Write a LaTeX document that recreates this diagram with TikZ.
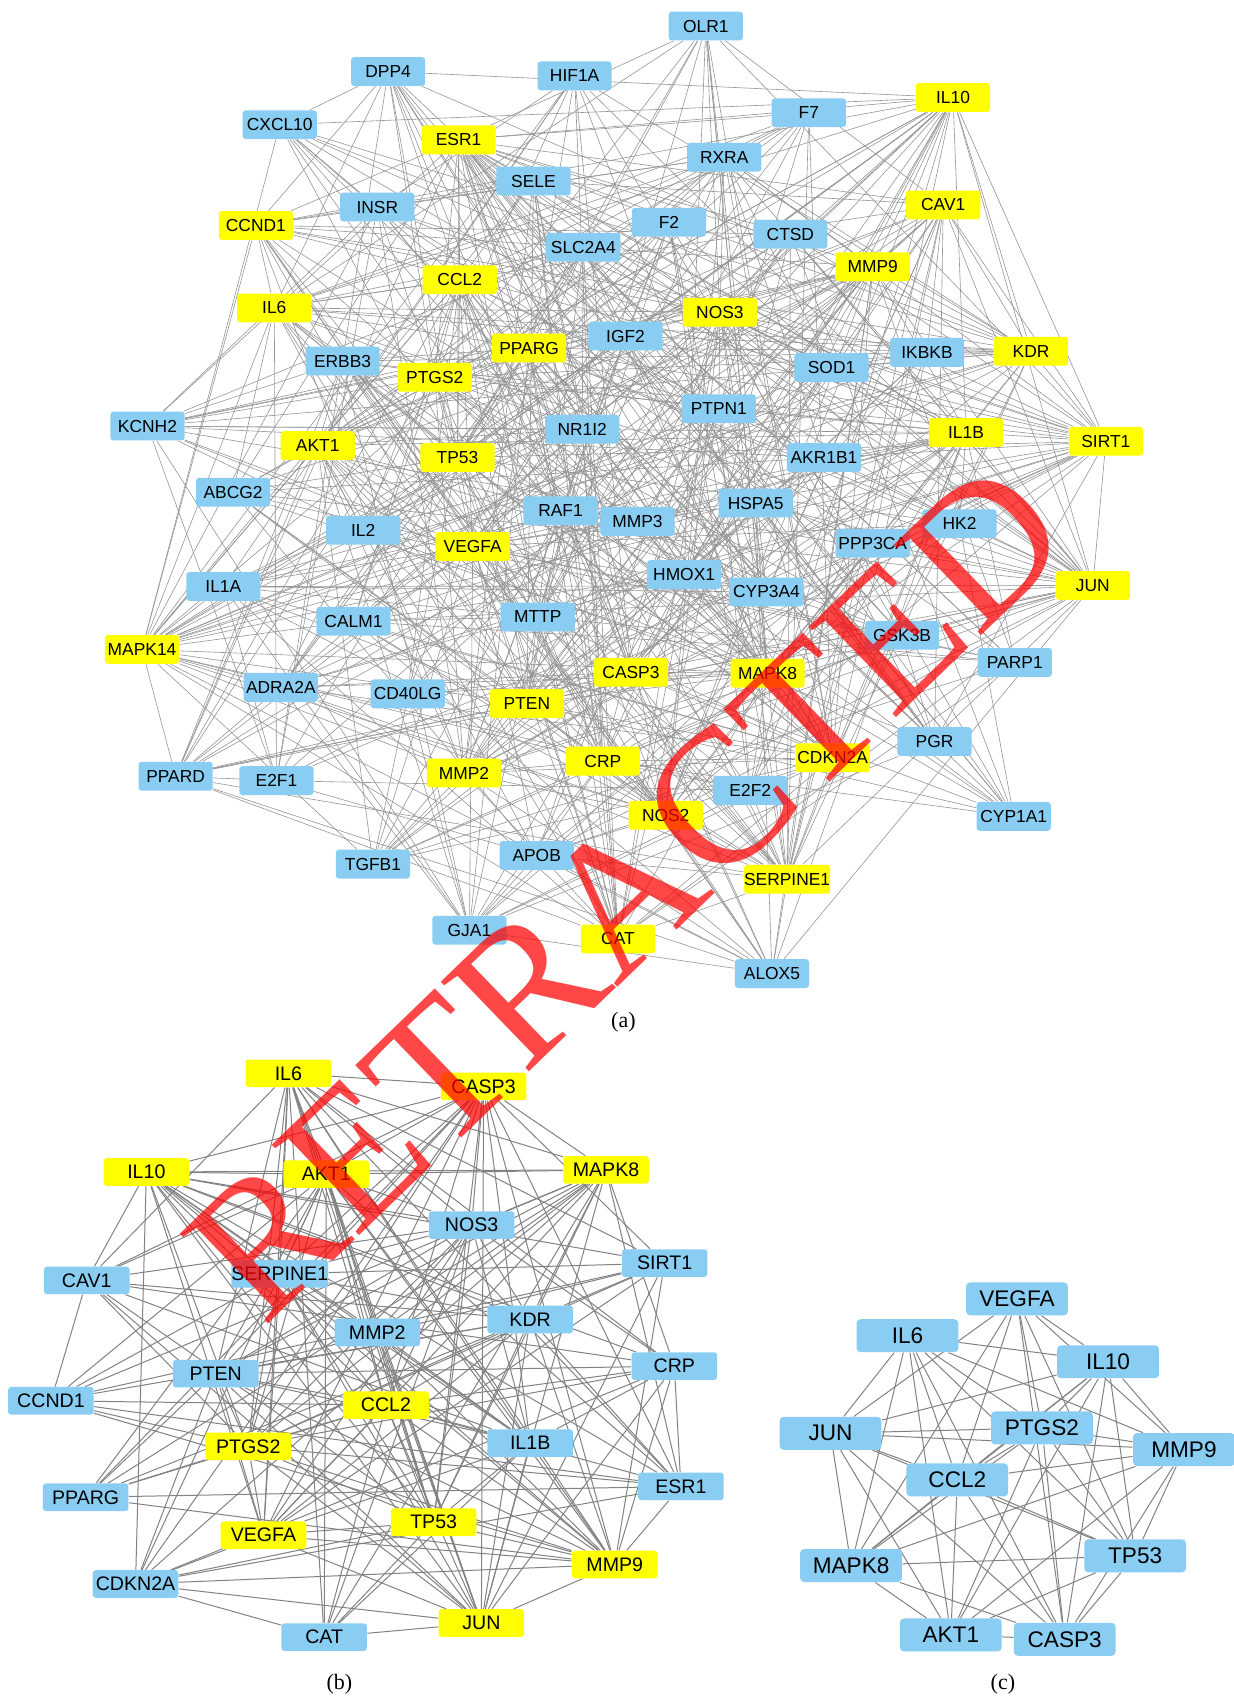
\documentclass[tikz,border=0pt]{standalone}
\usepackage{fontspec}
\setmainfont{Liberation Serif}
\newfontfamily\boxfont{Liberation Sans}
\usetikzlibrary{backgrounds}
\definecolor{nblue}{RGB}{137,206,242}
\definecolor{nyel}{RGB}{255,255,0}
\definecolor{egray}{RGB}{150,150,150}
\definecolor{egrayb}{RGB}{130,130,130}

\newcommand\placenodes[3]{%
  \foreach \n/\x/\y/\h [count=\k] in {#3}{%
    \node[#2, col\h] (#1-\n) at (\x,\y) {\n};
    \expandafter\xdef\csname #1N\k\endcsname{\n}%
    \expandafter\xdef\csname #1H\k\endcsname{\h}%
  }%
}
\newcommand\drawnet[6]{%
  \pgfmathtruncatemacro\netlast{#2-1}%
  \foreach \i in {1,...,\netlast}{%
    \pgfmathtruncatemacro\netnext{\i+1}%
    \foreach \j in {\netnext,...,#2}{%
      \edef\ha{\csname #1H\i\endcsname}\edef\hb{\csname #1H\j\endcsname}%
      \pgfmathsetmacro\rr{rnd}%
      \ifcase\numexpr\ha+\hb\relax\def\pp{#3}\or\def\pp{#4}\else\def\pp{#5}\fi
      \ifdim\rr pt<\pp pt
        \edef\na{\csname #1N\i\endcsname}\edef\nb{\csname #1N\j\endcsname}%
        \draw[#6] (#1-\na) -- (#1-\nb);
      \fi
    }%
  }%
}

\begin{document}
\begin{tikzpicture}[x=0.5422pt,y=-0.5422pt,
  col0/.style={fill=nblue},
  col1/.style={fill=nyel},
  abox/.style={rectangle, rounded corners=1.5pt, minimum width=37.1pt, minimum height=14.4pt, inner sep=0pt, font=\boxfont\fontsize{8.7}{9}\selectfont},
  bbox/.style={rectangle, rounded corners=1.5pt, minimum width=42.8pt, minimum height=13.8pt, inner sep=0pt, font=\boxfont\fontsize{9.8}{10}\selectfont},
  cbox/.style={rectangle, rounded corners=2pt, minimum width=50.9pt, minimum height=16.5pt, inner sep=0pt, font=\boxfont\fontsize{11.3}{12}\selectfont},
  aedge/.style={draw=egray, line width=0.3pt},
  bedge/.style={draw=egrayb, line width=0.5pt},
  cedge/.style={draw=egrayb, line width=0.5pt},
  plabel/.style={font=\fontsize{11}{12}\selectfont}
]
\useasboundingbox (0,0) rectangle (1138,1568);

\placenodes{a}{abox}{OLR1/651/24/0, DPP4/358/66/0, HIF1A/530/70/0, IL10/879/90/1, F7/746/104/0,
 CXCL10/258/115/0, ESR1/423/129/1, RXRA/668/145/0, SELE/492/167/0, CAV1/870/189/1,
 INSR/348/191/0, CCND1/236/208/1, F2/617/205/0, CTSD/729/216/0, SLC2A4/538/228/0,
 MMP9/805/246/1, CCL2/424/258/1, IL6/253/284/1, NOS3/664/288/1, IGF2/577/310/0,
 PPARG/488/321/1, IKBKB/855/325/0, KDR/951/324/1, ERBB3/316/333/0, PTGS2/401/348/1,
 SOD1/767/339/0, PTPN1/663/377/0, KCNH2/136/393/0, NR1I2/537/396/0, IL1B/891/399/1,
 SIRT1/1020/407/1, AKT1/293/411/1, TP53/422/422/1, AKR1B1/760/422/0, ABCG2/215/454/0,
 RAF1/517/471/0, MMP3/588/481/0, HSPA5/697/464/0, HK2/885/483/0, IL2/335/489/0,
 VEGFA/436/504/1, PPP3CA/805/501/0, HMOX1/631/530/0, CYP3A4/707/546/0, JUN/1008/540/1,
 IL1A/206/541/0, MTTP/496/569/0, CALM1/326/573/0, GSK3B/832/586/0, MAPK14/131/599/1,
 PARP1/936/611/0, CASP3/582/620/1, MAPK8/708/621/1, ADRA2A/259/634/0, CD40LG/376/640/0,
 PTEN/486/649/1, PGR/862/684/0, CDKN2A/768/699/1, CRP/556/702/1, MMP2/428/713/1,
 PPARD/162/716/0, E2F1/255/720/0, E2F2/692/729/0, CYP1A1/935/753/0, NOS2/614/752/1,
 APOB/495/789/0, SERPINE1/726/811/1, TGFB1/344/797/0, GJA1/433/858/0, CAT/570/866/1,
 ALOX5/712/898/0}

\placenodes{b}{bbox}{IL6/266/990/1, CASP3/446/1002/1, IL10/135/1081/1, AKT1/301/1083/1,
 MAPK8/559/1079/1, NOS3/435/1130/0, SIRT1/613/1165/0, CAV1/80/1181/0, SERPINE1/258/1175/0,
 MMP2/348/1229/0, KDR/489/1217/0, CRP/622/1260/0, PTEN/199/1267/0, CCND1/47/1292/0,
 CCL2/356/1296/1, PTGS2/229/1334/1, IL1B/489/1331/0, ESR1/628/1371/0, PPARG/79/1381/0,
 TP53/400/1404/1, VEGFA/243/1416/1, MMP9/567/1443/1, CDKN2A/125/1461/0, JUN/444/1497/1,
 CAT/299/1510/0}

\placenodes{c}{cbox}{VEGFA/938/1198/0, IL6/837/1232/0, IL10/1022/1256/0, JUN/766/1322/0,
 PTGS2/961/1317/0, MMP9/1092/1337/0, CCL2/883/1365/0, MAPK8/785/1444/0, TP53/1047/1435/0,
 AKT1/877/1508/0, CASP3/982/1512/0}

\begin{scope}[on background layer]
  \fill[white] (0,0) rectangle (1138,1568);
  \pgfmathsetseed{2718}
  \drawnet{a}{71}{0.12}{0.30}{0.55}{aedge}
  \drawnet{b}{25}{0.42}{0.68}{0.92}{bedge}
  \drawnet{c}{11}{0.90}{0.90}{0.90}{cedge}
\end{scope}

\node[plabel] (la) at (575,943) {(a)};
\node[plabel] (lb) at (313,1553) {(b)};
\node[plabel] (lc) at (925,1553) {(c)};

\node[text=red, text opacity=0.72, rotate=44, font=\fontsize{96}{96}\selectfont] (wm) at (578,822) {RETRACTED};
\end{tikzpicture}
\end{document}
